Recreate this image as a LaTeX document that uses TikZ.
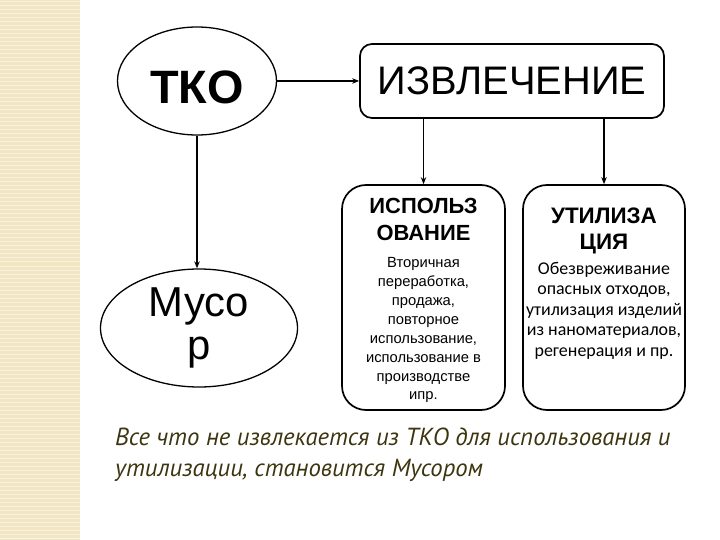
\documentclass[tikz,border=0pt]{standalone}
\usepackage{fontspec}
\setmainfont{Liberation Sans}
\newfontfamily\notefont{PT Sans}
\newfontfamily\bodyfont{Carlito}
\usetikzlibrary{arrows.meta,positioning,shapes.geometric}
\definecolor{stripbeige}{HTML}{F1E5C3}
\definecolor{stripline}{HTML}{F9F2DC}
\definecolor{olivetext}{HTML}{3D3510}
\tikzset{
  oval/.style={ellipse,draw,line width=1.3bp,inner sep=0pt},
  roundbox/.style={draw,line width=1.7bp,inner sep=0pt},
  link/.style={-{Stealth[length=7bp,width=5.5bp]},line width=1.5bp},
}
\begin{document}
\begin{tikzpicture}[x=1bp,y=-1bp]
  \useasboundingbox (0,0) rectangle (720,540);
  % striped strip on the left
  \fill[stripbeige] (0,0) rectangle (80,540);
  \foreach \y in {2,6,...,538}
    \draw[stripline,line width=1bp] (0,\y) -- (80,\y);

  \node[oval,minimum width=159bp,minimum height=108bp,text height=46bp,text depth=0pt,
        font=\bfseries\fontsize{47}{50}\selectfont] (tko) at (197,81) {ТКО};
  \node[roundbox,rounded corners=12bp,minimum width=304bp,minimum height=74bp,
        font=\fontsize{40}{44}\selectfont] (izv) at (512,81) {ИЗВЛЕЧЕНИЕ};
  \node[oval,minimum width=197bp,minimum height=118bp,align=center,
        font=\fontsize{42}{44}\selectfont] (musor) at (199,328) {Мусо\\р};

  \node[roundbox,rounded corners=24bp,minimum width=163bp,minimum height=225bp]
        (ispol) at (423.5,297.5) {};
  \node[roundbox,rounded corners=24bp,minimum width=162bp,minimum height=225bp]
        (util) at (604,297.5) {};

  \node[below=14bp of ispol.north,align=center,inner sep=0pt,
        font=\bfseries\fontsize{22}{27}\selectfont] (ispoltitle) {ИСПОЛЬЗ\\ОВАНИЕ};
  \node[below=73bp of ispol.north,align=center,inner sep=0pt,
        font=\fontsize{14.8}{19}\selectfont] (ispolbody)
        {Вторичная\\переработка,\\продажа,\\повторное\\использование,\\использование в\\производстве\\ипр.};
  \node[below=24bp of util.north,align=center,inner sep=0pt,
        font=\bfseries\fontsize{22.5}{26}\selectfont] (utiltitle) {УТИЛИЗА\\ЦИЯ};
  \node[below=78bp of util.north,align=center,inner sep=0pt,
        font=\bodyfont\fontsize{18}{20.5}\selectfont] (utilbody)
        {Обезвреживание\\опасных отходов,\\утилизация изделий\\из наноматериалов,\\регенерация и пр.};

  \draw[link] (tko.east) -- (izv.west);
  \draw[link] (tko.south) -- (tko.south |- musor.north);
  \draw[link] (ispol.north |- izv.south) -- (ispol.north);
  \draw[link] (util.north |- izv.south) -- (util.north);

  \node[anchor=base west,inner sep=0pt,text=olivetext,
        font=\notefont\itshape\fontsize{24.8}{31}\selectfont] (noteA) at (115,445)
        {Все что не извлекается из ТКО для использования и};
  \node[anchor=base west,inner sep=0pt,text=olivetext,
        font=\notefont\itshape\fontsize{24.8}{31}\selectfont] (noteB) at (115,476)
        {утилизации, становится Мусором};
\end{tikzpicture}
\end{document}
